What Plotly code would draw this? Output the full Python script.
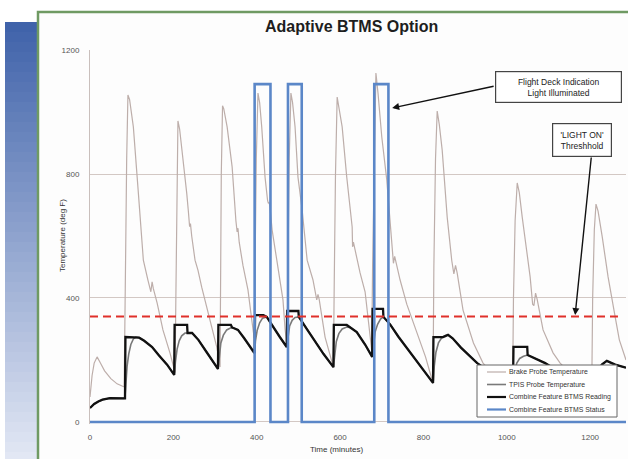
import plotly.graph_objects as go

# ---------------- data ----------------
series_names = ["Brake Probe Temperature", "TPIS Probe Temperature",
                "Combine Feature BTMS Reading", "Combine Feature BTMS Status"]

brake_t = [0, 5, 10, 17, 25, 35, 50, 65, 82, 84, 86, 88, 91, 95, 104, 116, 128, 139, 146, 149,
           152, 161, 175, 192, 204, 206, 208, 211, 215, 224, 232, 236, 239, 241, 244, 252, 259, 268, 284, 304,
           312, 313, 315, 318, 321, 329, 341, 350, 353, 355, 358, 367, 379, 388, 394, 396, 399, 403, 407, 412,
           420, 426, 428, 430, 432, 437, 449, 463, 468, 473, 475, 478, 482, 486, 492, 499, 509, 521, 535, 544,
           547, 550, 564, 575, 584, 586, 589, 593, 597, 605, 616, 629, 630, 632, 636, 648, 660, 670, 676, 678,
           682, 686, 691, 700, 712, 720, 726, 728, 731, 735, 744, 760, 776, 792, 805, 816, 823, 825, 829, 833,
           838, 845, 857, 868, 873, 877, 881, 895, 920, 943, 970, 1000, 1014, 1016, 1020, 1025, 1030, 1037, 1056, 1062,
           1065, 1069, 1073, 1087, 1111, 1128, 1150, 1180, 1204, 1206, 1210, 1214, 1219, 1229, 1243, 1260, 1270, 1286]
brake_T = [81, 150, 190, 210, 190, 165, 140, 123, 113, 300, 600, 850, 1055, 1040, 952, 739, 522, 458, 420, 452,
           430, 384, 297, 222, 160, 400, 750, 971, 945, 845, 739, 680, 630, 640, 600, 522, 490, 435, 352, 242,
           177, 450, 800, 1020, 1010, 952, 823, 650, 613, 625, 580, 505, 426, 330, 270, 500, 850, 1061, 1030, 952,
           790, 715, 705, 708, 690, 619, 513, 394, 300, 240, 500, 850, 1061, 1030, 952, 790, 684, 522, 458, 394,
           412, 395, 274, 220, 177, 450, 800, 1048, 1020, 952, 790, 629, 565, 580, 555, 481, 420, 300, 230, 500,
           900, 1126, 1061, 920, 781, 642, 520, 512, 534, 510, 458, 380, 320, 265, 210, 158, 126, 500, 850, 1003,
           960, 877, 661, 520, 478, 505, 480, 361, 255, 190, 150, 128, 118, 400, 650, 771, 740, 661, 468, 380,
           375, 416, 395, 297, 223, 190, 160, 140, 128, 400, 620, 703, 680, 597, 468, 339, 265, 200]

tpis_t = [0, 10, 20, 30, 48, 82, 84, 86, 89, 93, 98, 104, 110, 118, 130, 149, 165, 185, 202, 203,
          205, 209, 214, 220, 228, 245, 260, 280, 295, 307, 308, 310, 314, 320, 328, 338, 345, 355, 370, 391,
          395, 397, 401, 407, 414, 424, 440, 455, 472, 473, 475, 479, 485, 492, 501, 520, 540, 560, 584, 585,
          587, 591, 597, 605, 616, 625, 640, 660, 677, 678, 680, 684, 690, 697, 704, 720, 740, 760, 780, 800,
          823, 824, 826, 830, 836, 843, 851, 859, 870, 890, 910, 929, 950, 980, 1015, 1016, 1019, 1024, 1031, 1040,
          1050, 1060, 1075, 1092, 1110, 1150, 1200, 1228, 1240, 1250, 1260, 1286]
tpis_T = [45, 58, 66, 72, 77, 76, 80, 130, 180, 220, 250, 268, 274, 272, 262, 242, 215, 185, 152, 160,
          195, 235, 262, 278, 287, 287, 265, 225, 195, 171, 180, 215, 255, 280, 297, 304, 303, 297, 270, 226,
          222, 262, 295, 320, 335, 339, 305, 275, 242, 250, 280, 310, 328, 337, 339, 300, 260, 220, 177, 190,
          225, 260, 285, 300, 306, 305, 290, 250, 210, 220, 255, 290, 315, 332, 339, 315, 275, 240, 205, 170,
          126, 135, 180, 225, 255, 270, 278, 281, 270, 240, 215, 190, 170, 150, 125, 132, 165, 190, 205, 212,
          216, 210, 200, 190, 175, 150, 130, 185, 197, 190, 185, 175]

comb_t = [0, 10, 20, 30, 48, 82, 84, 85, 113, 118, 130, 149, 165, 185, 202, 203, 233, 234, 245, 260,
          280, 295, 307, 308, 338, 341, 355, 370, 391, 395, 396, 416, 424, 440, 455, 472, 473, 500, 501, 520,
          540, 560, 584, 585, 616, 625, 640, 660, 677, 678, 703, 704, 720, 740, 760, 780, 800, 823, 824, 847,
          859, 870, 890, 910, 929, 950, 980, 1015, 1016, 1049, 1050, 1060, 1075, 1092, 1110, 1150, 1200, 1228, 1240, 1250,
          1260, 1286]
comb_T = [45, 58, 66, 72, 77, 76, 76, 274, 274, 272, 262, 242, 215, 185, 152, 313, 313, 287, 287, 265,
          225, 195, 171, 313, 313, 305, 297, 270, 226, 222, 345, 345, 339, 305, 275, 242, 358, 358, 339, 300,
          260, 220, 177, 313, 313, 305, 290, 250, 210, 365, 365, 339, 315, 275, 240, 205, 170, 126, 274, 274,
          281, 270, 240, 215, 190, 170, 150, 125, 242, 242, 216, 210, 200, 190, 175, 150, 130, 185, 197, 190,
          185, 175]

status_t = [0, 395, 395, 433, 433, 475, 475, 508, 508, 682, 682, 716, 716, 1286]
status_v = [0, 0, 1090, 1090, 0, 0, 1090, 1090, 0, 0, 1090, 1090, 0, 0]

threshold = 340
x_ticks = [0, 200, 400, 600, 800, 1000, 1200]
y_ticks = [0, 400, 800, 1200]

# ---------------- layout geometry ----------------
W, H = 628, 459
ML, MR, MT, MB = 90, 2, 50, 35
XMAX = 1286
YMIN, YMAX = -6.5, 1200
PW, PH = W - ML - MR, H - MT - MB


def px(x):
    return (x - ML) / PW


def py(y):
    return (H - MB - y) / PH


colors = ["#bdaeaa", "#7a7a7a", "#111111", "#5b87c8"]
widths = [1.2, 1.6, 2.3, 2.6]

fig = go.Figure()
for t, v, name, c, w in zip([brake_t, tpis_t, comb_t, status_t],
                            [brake_T, tpis_T, comb_T, status_v],
                            series_names, colors, widths):
    fig.add_trace(go.Scatter(x=t, y=v, mode="lines", name=name, showlegend=False,
                             line=dict(color=c, width=w), hoverinfo="skip"))

shapes = []
# blue gradient panel on the left
N = 44
top_c = (64, 99, 170)
bot_c = (226, 231, 244)
y_top, y_bot = 22, 462
for i in range(N):
    f = i / (N - 1)
    c = tuple(round(top_c[k] + (bot_c[k] - top_c[k]) * f) for k in range(3))
    y0 = y_top + (y_bot - y_top) * i / N
    y1 = y_top + (y_bot - y_top) * (i + 1) / N + 0.6
    shapes.append(dict(type="rect", xref="paper", yref="paper", layer="below",
                       x0=px(5), x1=px(38), y0=py(y1), y1=py(y0),
                       line=dict(width=0), fillcolor="rgb(%d,%d,%d)" % c))
# green framed slide box
shapes.append(dict(type="rect", xref="paper", yref="paper", layer="below",
                   x0=px(38), x1=px(660), y0=py(480), y1=py(12),
                   line=dict(color="#6f9a63", width=2.5), fillcolor="#fdfdfd"))
# threshold dashed line
shapes.append(dict(type="line", xref="x", yref="y", layer="above",
                   x0=0, x1=XMAX * 0.985, y0=threshold, y1=threshold,
                   line=dict(color="#e0302a", width=2, dash="8px,5px")))

# manual legend
leg_x0, leg_x1, leg_y0, leg_y1 = 477, 617, 365, 417
shapes.append(dict(type="rect", xref="paper", yref="paper", layer="above",
                   x0=px(leg_x0), x1=px(leg_x1), y0=py(leg_y1), y1=py(leg_y0),
                   line=dict(color="#666666", width=1), fillcolor="white"))
annotations = []
row_y = [372, 384.5, 397, 409.5]
for i, name in enumerate(series_names):
    shapes.append(dict(type="line", xref="paper", yref="paper", layer="above",
                       x0=px(487), x1=px(506), y0=py(row_y[i]), y1=py(row_y[i]),
                       line=dict(color=colors[i], width=min(widths[i], 2.2))))
    annotations.append(dict(xref="paper", yref="paper", x=px(507), y=py(row_y[i]),
                            xanchor="left", yanchor="middle", showarrow=False,
                            text=name, font=dict(size=6.9, color="#333333",
                                                 family="Liberation Sans, Arial")))

# title and axis titles
annotations.append(dict(xref="paper", yref="paper", x=px(351), y=py(27), xanchor="center",
                        yanchor="middle", showarrow=False, text="<b>Adaptive BTMS Option</b>",
                        font=dict(size=16, color="#1e1e1e", family="Liberation Sans, Arial")))
annotations.append(dict(xref="paper", yref="paper", x=px(336), y=py(449), xanchor="center",
                        yanchor="middle", showarrow=False, text="Time (minutes)",
                        font=dict(size=8, color="#333333", family="Liberation Sans, Arial")))
annotations.append(dict(xref="paper", yref="paper", x=px(62), y=py(236), xanchor="center",
                        yanchor="middle", showarrow=False, text="Temperature (deg F)", textangle=-90,
                        font=dict(size=8, color="#333333", family="Liberation Sans, Arial")))

# callout boxes
annotations.append(dict(xref="paper", yref="paper", x=px(558.5), y=py(87.5), xanchor="center",
                        yanchor="middle", showarrow=False,
                        text="Flight Deck Indication<br>Light Illuminated",
                        width=121, height=26, borderpad=2, bordercolor="#444444", borderwidth=1.2,
                        bgcolor="white", font=dict(size=8.5, color="#222222", family="Liberation Sans, Arial")))
annotations.append(dict(xref="paper", yref="paper", x=px(582), y=py(139.5), xanchor="center",
                        yanchor="middle", showarrow=False,
                        text="'LIGHT ON'<br>Threshhold",
                        width=54, height=28, borderpad=2, bordercolor="#444444", borderwidth=1.2,
                        bgcolor="white", font=dict(size=8.5, color="#222222", family="Liberation Sans, Arial")))
# arrows
annotations.append(dict(xref="x", yref="y", x=725, y=1013, axref="x", ayref="y", ax=972, ay=1084,
                        text="", showarrow=True, arrowhead=2, arrowsize=1, arrowwidth=1.4,
                        arrowcolor="#111111"))
annotations.append(dict(xref="x", yref="y", x=1164, y=345, axref="x", ayref="y", ax=1203, ay=858,
                        text="", showarrow=True, arrowhead=2, arrowsize=1, arrowwidth=1.4,
                        arrowcolor="#111111"))

tick_font = dict(size=8, color="#555555", family="Liberation Sans, Arial")
fig.update_layout(
    width=W, height=H, autosize=False,
    margin=dict(l=ML, r=MR, t=MT, b=MB, pad=0),
    paper_bgcolor="white", plot_bgcolor="rgba(0,0,0,0)",
    showlegend=False,
    shapes=shapes, annotations=annotations,
    xaxis=dict(range=[0, XMAX], tickvals=x_ticks, ticktext=[str(v) for v in x_ticks],
               showgrid=False, zeroline=False, showline=False, ticks="",
               ticklabelstandoff=7, tickfont=tick_font, fixedrange=True),
    yaxis=dict(range=[YMIN, YMAX], tickvals=y_ticks, ticktext=[str(v) for v in y_ticks],
               showgrid=True, gridcolor="#d3c8c4", gridwidth=1, zeroline=False,
               showline=True, linecolor="#c9bfbc", linewidth=1, ticks="",
               ticklabelstandoff=8, tickfont=tick_font, fixedrange=True),
)

fig.write_html("out.html", include_plotlyjs=True, config={"displayModeBar": False},
               post_script="document.body.style.margin='0';document.body.style.overflow='hidden';")
